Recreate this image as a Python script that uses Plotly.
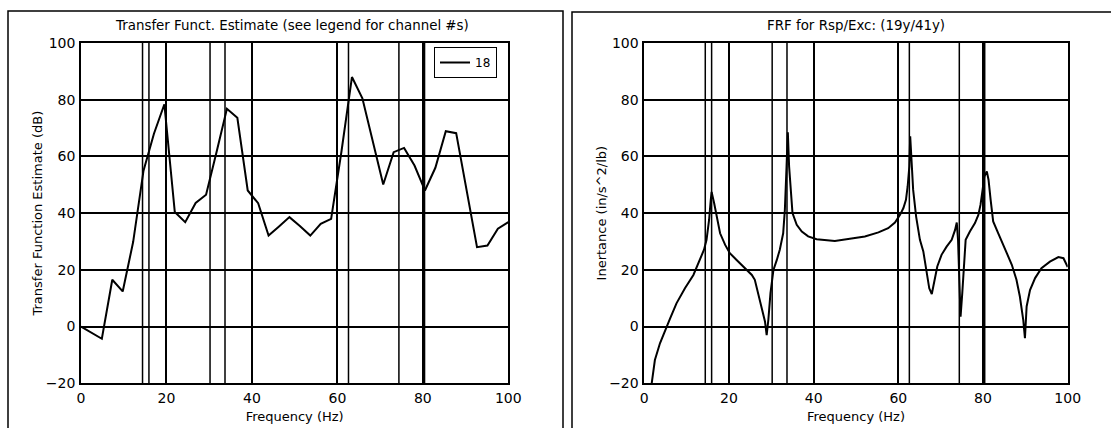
import plotly.graph_objects as go

W, H = 1111, 428

# ---- data: left panel (Transfer function estimate, channel 18) ----
freq_tf = [0, 2.44, 4.88, 7.32, 9.76, 12.2, 14.63, 17.07, 19.51, 21.95, 24.39,
           26.83, 29.27, 31.71, 34.15, 36.59, 39.02, 41.46, 43.9, 46.34, 48.78,
           51.22, 53.66, 56.1, 58.54, 60.98, 63.41, 65.85, 68.29, 70.73, 73.17,
           75.61, 78.05, 80.49, 82.93, 85.37, 87.8, 90.24, 92.68, 95.12, 97.56, 100]
tf_db = [0, -2.1, -4.3, 16.5, 12.4, 29.8, 55, 68, 78.4, 40.4, 36.8,
         43.6, 46.5, 61.5, 76.8, 73.6, 48, 43.5, 32.1, 35.3, 38.6,
         35.5, 32.1, 36.2, 38, 62, 88, 80.5, 65, 50.1, 61.5,
         63, 56.8, 48, 56, 68.9, 68.2, 48, 28, 28.6, 34.5, 36.8]

# ---- data: right panel (FRF 19y/41y inertance) ----
freq_frf = [1.2, 1.73, 2.5, 3.7, 4.9, 6.1, 7.6, 9.6, 11.6, 12.8, 14.1, 14.7, 15.3, 15.7,
            15.9, 16.5, 17.2, 17.9, 19.1, 20.2, 21.8, 23.0, 24.2, 25.4, 26.1, 26.9,
            27.7, 28.5, 28.9, 29.3, 29.8, 30.5, 31.3, 32.0, 32.8, 33.2, 33.6, 33.9,
            34.2, 34.6, 35.0, 36.0, 37.2, 38.7, 40.7, 45.0, 48.2, 52.1, 55.3, 57.6,
            59.2, 60.4, 61.2, 61.8, 62.2, 62.6, 62.8, 63.2, 63.5, 64.2, 65.1, 65.9,
            66.7, 67.3, 67.9, 68.4, 69.2, 70.2, 71.4, 72.6, 73.4, 73.8, 74.1, 74.4,
            74.7, 75.1, 75.6, 75.9, 76.9, 78.1, 78.9, 79.4, 79.9, 80.3, 80.9, 81.3,
            81.8, 82.4, 83.6, 85.2, 86.8, 87.9, 88.7, 89.5, 89.9, 90.3, 91.1, 92.3,
            93.8, 95.8, 97.8, 99.0, 99.8, 100]
inertance = [-26, -20, -11.8, -5.9, -1.2, 2.9, 8.2, 13.5, 18.2, 22.4, 27.1, 30.6, 37.6, 44.7,
             47.5, 43.5, 37.6, 32.9, 28.8, 25.9, 23.5, 21.8, 20, 18.2, 16.5, 11.8,
             7.1, 1.8, -3, 2.4, 11.8, 20, 23.5, 27.1, 32.9, 41.2, 56.5, 68.5,
             56.5, 45.9, 40, 35.9, 33.5, 31.8, 30.8, 30.2, 30.9, 31.8, 33.2, 34.7,
             36.7, 39.4, 41.8, 44.7, 49.4, 56.5, 67.1, 57.6, 48.2, 38.8, 30.6, 26.5,
             18.8, 13.5, 11.5, 15.3, 21.2, 25.3, 28.2, 30.6, 34.1, 36.7, 30.6, 16.5,
             3.5, 11.8, 24.7, 30.6, 33.5, 36.5, 39.4, 42.9, 48.2, 52.9, 54.7, 51.8,
             44.7, 37.1, 32.9, 27.1, 21.8, 16.5, 10.6, 2.4, -4.1, 7.1, 12.9, 17.1,
             20.6, 22.9, 24.5, 24.1, 21.8, 21]

# natural-frequency marker lines (Hz)
mode_freqs = [14.4, 15.9, 30.2, 33.7, 62.6, 74.4, 80.4]

x_ticks = [0, 20, 40, 60, 80, 100]
y_ticks = [-20, 0, 20, 40, 60, 80, 100]

FONT = "DejaVu Sans, Liberation Sans, Arial, sans-serif"


def px_x(p):
    return p / W


def px_y(p):
    return 1 - p / H


fig = go.Figure()
fig.add_trace(go.Scatter(x=freq_tf, y=tf_db, mode="lines", name="18",
                         line=dict(color="black", width=2),
                         xaxis="x", yaxis="y", showlegend=True))
fig.add_trace(go.Scatter(x=freq_frf, y=inertance, mode="lines", name="19y/41y",
                         line=dict(color="black", width=2),
                         xaxis="x2", yaxis="y2", showlegend=False))

ydom = [px_y(383.3), px_y(43)]

axis_common = dict(
    showgrid=True, gridcolor="black", gridwidth=1.5,
    showline=True, linecolor="black", linewidth=1.6, mirror=True,
    ticks="", tickfont=dict(family=FONT, size=14, color="black"),
    zeroline=True, zerolinecolor="black", zerolinewidth=1.5,
    automargin=False,
)

fig.update_layout(
    width=W, height=H,
    margin=dict(l=0, r=0, t=0, b=0, autoexpand=False),
    paper_bgcolor="white", plot_bgcolor="white",
    font=dict(family=FONT, size=13, color="black"),
    xaxis=dict(axis_common, domain=[px_x(81), px_x(508.3)], range=[0, 100],
               tickvals=x_ticks, anchor="y", ticklabelstandoff=1,
               title=dict(text="Frequency (Hz)", font=dict(size=13), standoff=7)),
    yaxis=dict(axis_common, domain=ydom, range=[-20, 100], tickvals=y_ticks,
               anchor="x", ticklabelstandoff=1,
               title=dict(text="Transfer Function Estimate (dB)", font=dict(size=13), standoff=0)),
    xaxis2=dict(axis_common, domain=[px_x(644.3), px_x(1067.7)], range=[0, 100],
                tickvals=x_ticks, anchor="y2", ticklabelstandoff=1,
                title=dict(text="Frequency (Hz)", font=dict(size=13), standoff=7)),
    yaxis2=dict(axis_common, domain=ydom, range=[-20, 100], tickvals=y_ticks,
                anchor="x2", ticklabelstandoff=1,
                title=dict(text="Inertance (in/s^2/lb)", font=dict(size=13), standoff=0)),
    legend=dict(x=px_x(497), y=px_y(47), xanchor="right", yanchor="top",
                bgcolor="white", bordercolor="black", borderwidth=1,
                font=dict(family=FONT, size=12, color="black"),
                itemwidth=30, tracegroupgap=0),
    showlegend=True,
)

# natural-frequency marker lines in both panels
for xa, ya in (("x", "y"), ("x2", "y2")):
    for f in mode_freqs:
        fig.add_shape(type="line", xref=xa, yref=f"{ya} domain",
                      x0=f, x1=f, y0=0, y1=1,
                      line=dict(color="black", width=1.5), layer="below")

# panel frames
fig.add_shape(type="rect", xref="paper", yref="paper",
              x0=px_x(8), x1=px_x(563), y0=-0.05, y1=px_y(11),
              line=dict(color="black", width=1.5))
fig.add_shape(type="rect", xref="paper", yref="paper",
              x0=px_x(572), x1=1.05, y0=-0.05, y1=px_y(12),
              line=dict(color="black", width=1.5))

# panel titles
fig.add_annotation(text="Transfer Funct. Estimate (see legend for channel #s)",
                   xref="paper", yref="paper", x=px_x(292), y=px_y(26),
                   showarrow=False, font=dict(family=FONT, size=13.4, color="black"),
                   xanchor="center", yanchor="middle")
fig.add_annotation(text="FRF for Rsp/Exc: (19y/41y)",
                   xref="paper", yref="paper", x=px_x(856), y=px_y(26),
                   showarrow=False, font=dict(family=FONT, size=13.4, color="black"),
                   xanchor="center", yanchor="middle")

fig.write_html("out.html",
               config={"displayModeBar": False},
               post_script="document.body.style.margin='0px';"
                           "document.body.style.overflow='hidden';")
